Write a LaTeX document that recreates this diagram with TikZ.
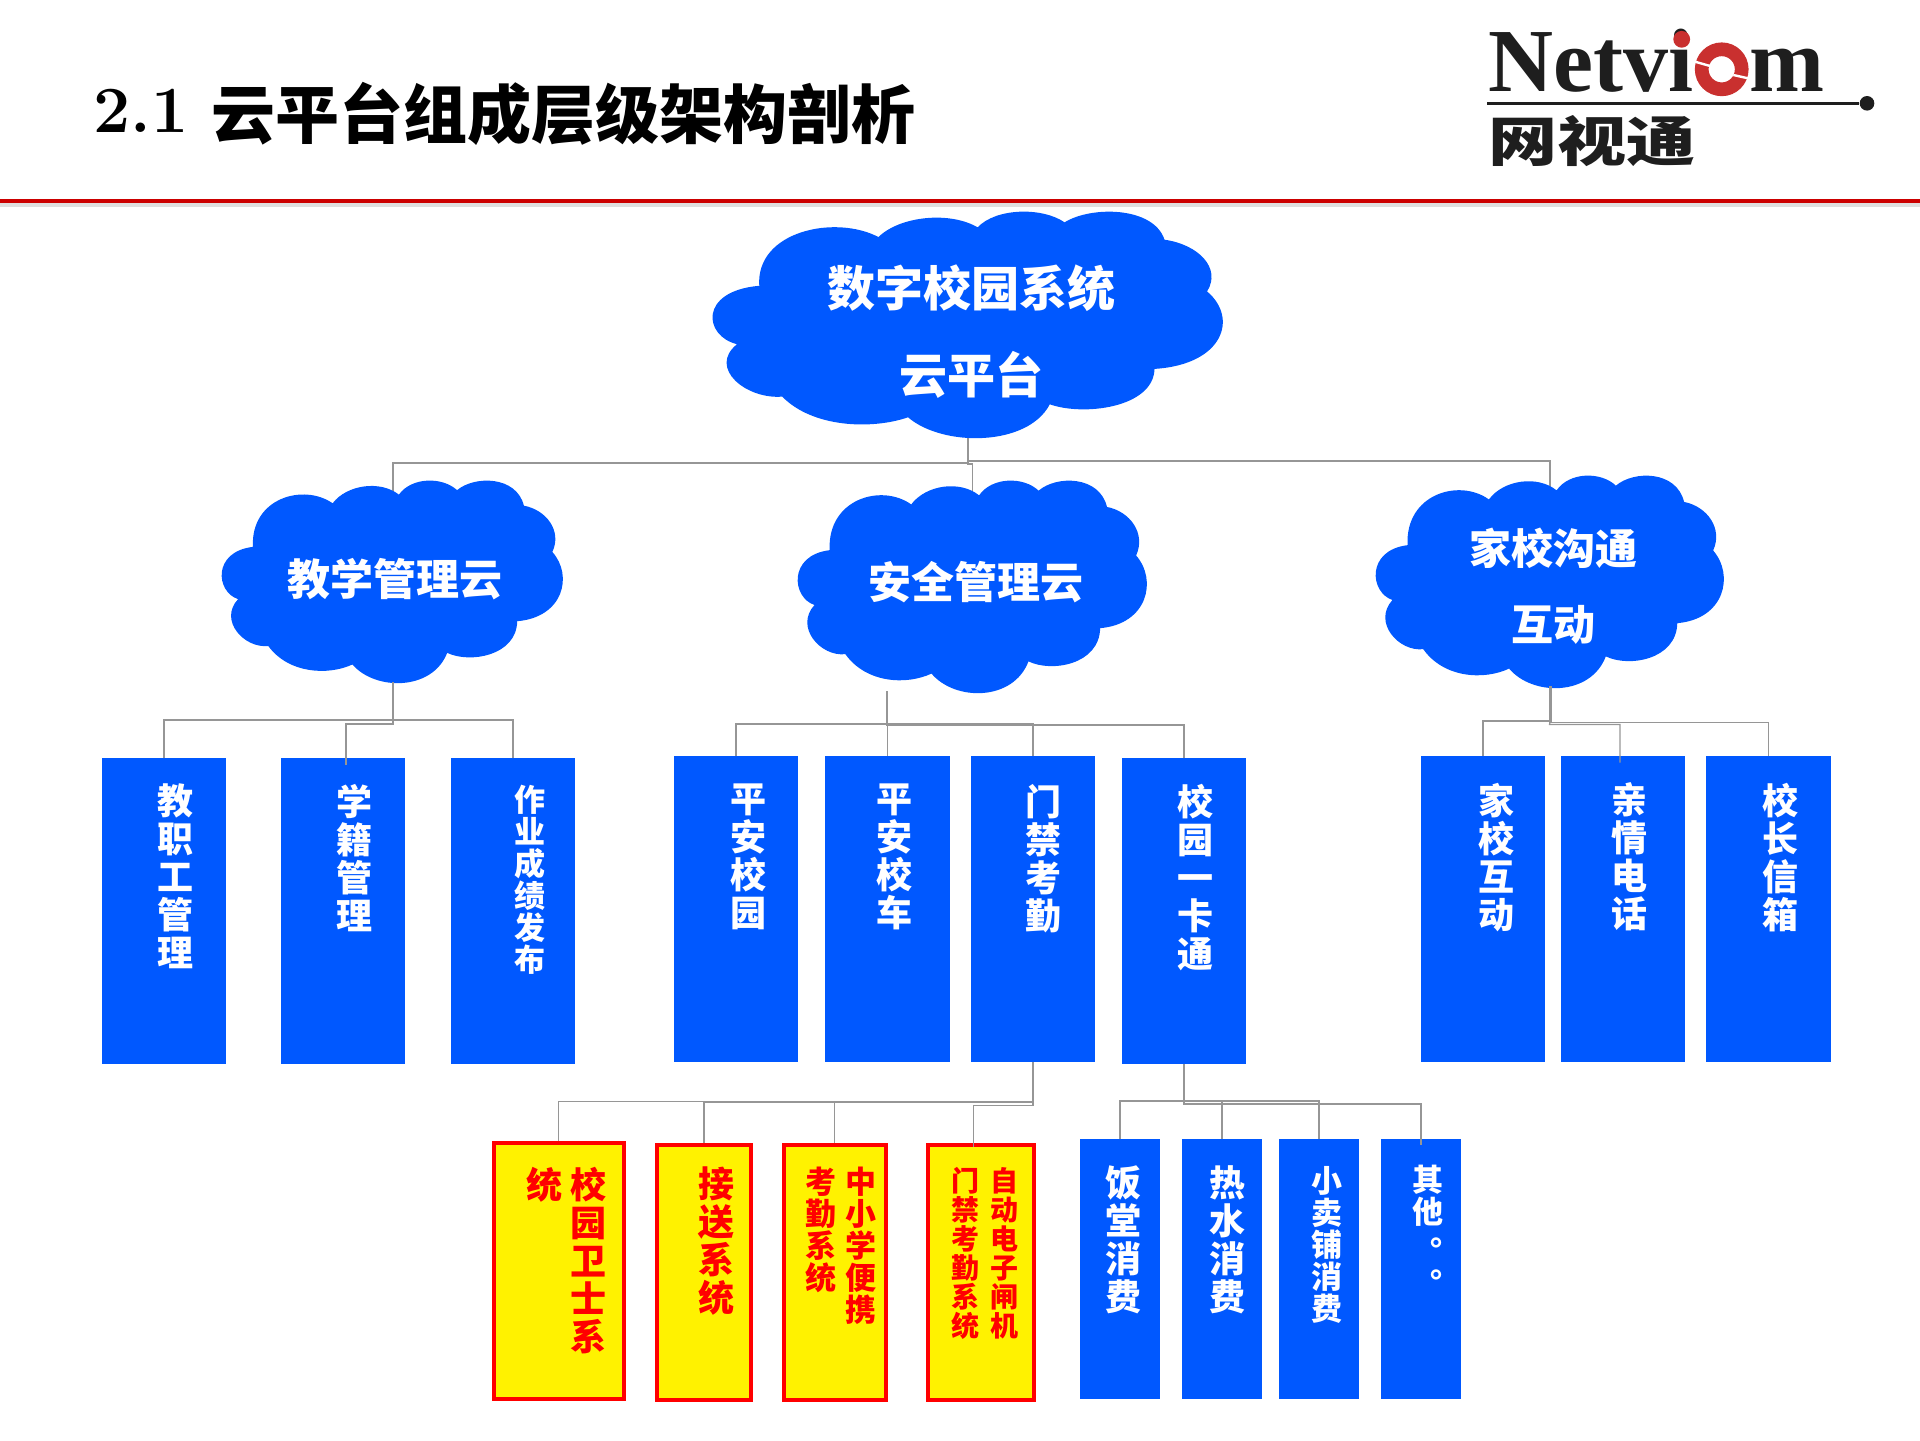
\documentclass[tikz,border=0pt]{standalone}
\usepackage{fontspec}
\usepackage{graphicx}
\usetikzlibrary{backgrounds}
\newfontfamily\cjk{Noto Sans CJK SC}
\newfontfamily\logofont{Liberation Serif}
\definecolor{cblue}{RGB}{0,88,255}
\definecolor{cgray}{RGB}{150,150,150}
\definecolor{cring}{RGB}{201,48,47}
\definecolor{cink}{RGB}{30,30,30}
\newcommand{\fsL}{\cjk\bfseries\fontsize{18}{19}\selectfont}
\newcommand{\fsM}{\cjk\bfseries\fontsize{15.5}{16}\selectfont}
\newcommand{\fsS}{\cjk\bfseries\fontsize{14}{14.5}\selectfont}
\newcommand{\stk}[1]{\parbox[t]{1.2em}{\centering #1}}
\newcommand{\boxtext}[4]{\parbox[c][#1][t]{0pt}{\vspace*{#3}\makebox[0pt]{\hspace*{#2}#4}}}
\newcommand{\cloudshape}[4]{\fill[cblue,shift={(#1,#2)},xscale=#3/1378,yscale=#4/680]
  (125,224) .. controls (115,60) and (330,10) .. (447,78)
  .. controls (505,15) and (640,0) .. (715,49)
  .. controls (765,-10) and (890,-12) .. (950,34)
  .. controls (1020,-15) and (1190,-15) .. (1220,86)
  .. controls (1310,100) and (1375,170) .. (1335,241)
  .. controls (1420,320) and (1380,460) .. (1193,473)
  .. controls (1190,590) and (1000,615) .. (910,579)
  .. controls (850,707) and (620,707) .. (527,618)
  .. controls (430,655) and (270,650) .. (187,556)
  .. controls (90,565) and (-15,470) .. (65,399)
  .. controls (-25,375) and (-40,240) .. (125,224) -- cycle;}
\tikzstyle{cloudtext}=[rectangle,text=white,inner sep=0mm,align=center]
\tikzstyle{bluebox}=[rectangle,fill=cblue,text=white,inner sep=0mm]
\tikzstyle{redbox}=[rectangle,draw=red,line width=2pt,fill=yellow,text=red,inner sep=0mm]
\tikzstyle{link}=[draw=cgray,line width=0.6pt]
\begin{document}
\begin{tikzpicture}[x=0.5pt,y=-0.5pt]
  \useasboundingbox (0,0) rectangle (1920,1440);
  % header
  \fill[cgray!30] (0,203) rectangle (1920,207);
  \fill[red!80!black] (0,199) rectangle (1920,203);
  \node[anchor=base west,inner sep=0mm] at (93,138) (title) {\raisebox{3pt}{\bfseries\fontsize{33}{33}\selectfont 2.1}\hspace{11.5pt}{\cjk\bfseries\fontsize{32}{32}\selectfont 云平台组成层级架构剖析}};
  % logo
  \node[anchor=base west,inner sep=0mm,text=cink,font=\logofont\bfseries\fontsize{45}{45}\selectfont] at (1488,91.7) (logoName) {Netvi\makebox[28pt]{\textcolor{white}{o}}m};
  \fill[cring] (1681.7,39.3) circle (4.2pt);
  \draw[cring,line width=6.85pt] (1721.7,69.3) circle (10pt);
  \draw[white,line width=1.2pt] (1695,61.7) -- (1710,66);
  \draw[white,line width=1.2pt] (1733.3,75) -- (1748,78.3);
  \node[circle,fill=cink,inner sep=0mm,minimum size=7.3pt] at (1867,103.3) (logoDot) {};
  \coordinate (logoStart) at (1487,103.3);
  \draw[cink,line width=1.2pt] (logoStart) -- (logoDot);
  \node[anchor=west,inner sep=0mm,text=cink,font=\cjk\bfseries\fontsize{27}{27}\selectfont] at (1488,141) (logoCn) {\scalebox{1.28}[1]{网视通}};
  % clouds
  \node[cloudtext,minimum height=105.5pt,font=\cjk\bfseries\fontsize{24}{43.5}\selectfont] at (971,331.5) (cl0) {数字校园系统\\云平台};
  \node[cloudtext,minimum height=103pt,font=\cjk\bfseries\fontsize{21.5}{24}\selectfont] at (395,579) (cl1) {教学管理云};
  \node[cloudtext,font=\cjk\bfseries\fontsize{21.5}{24}\selectfont] at (976,582) (cl2) {安全管理云};
  \node[cloudtext,minimum height=99.5pt,font=\cjk\bfseries\fontsize{21}{38}\selectfont] at (1553,586.5) (cl3) {家校沟通\\互动};
  \coordinate (j0) at (968,463);
  \coordinate (j0r) at (968,461);
  \coordinate (j0m) at (972.6,464);
  \coordinate (j1) at (393,720);
  \coordinate (j1m) at (393,724);
  \coordinate (j3) at (1550,721);
  \coordinate (j3r) at (1551,722.3);
  \coordinate (j3m) at (1549.5,724.5);
  \begin{scope}[on background layer]
    \draw[link] (j0 |- cl0.south) -- (j0) -| (j1 |- cl1);
    \draw[link] (j0 |- cl0.south) -- (j0r) -| (j3 |- cl3);
    \draw[link] (j0) |- (j0m) -- (j0m |- cl2);
    \cloudshape{713}{211}{510}{227}
    \cloudshape{222}{480}{341}{203}
    \cloudshape{798}{480}{349}{213}
    \cloudshape{1376}{475}{348}{213}
  \end{scope}
  % second row
  \node[bluebox,minimum width=62pt,font=\fsL] at (164,911) (a1) {\boxtext{153pt}{11pt}{13pt}{\stk{教\\职\\工\\管\\理}}};
  \node[bluebox,minimum width=62pt,font=\fsL] at (343,911) (a2) {\boxtext{153pt}{11pt}{13pt}{\stk{学\\籍\\管\\理}}};
  \node[bluebox,minimum width=62pt,font=\fsM] at (513,911) (a3) {\boxtext{153pt}{17pt}{13.5pt}{\stk{作\\业\\成\\绩\\发\\布}}};
  \node[bluebox,minimum width=62.3pt,font=\fsL] at (736,909) (b1) {\boxtext{153pt}{12pt}{14pt}{\stk{平\\安\\校\\园}}};
  \node[bluebox,minimum width=62.3pt,font=\fsL] at (887.5,909) (b2) {\boxtext{153pt}{6.5pt}{14pt}{\stk{平\\安\\校\\车}}};
  \node[bluebox,minimum width=62.3pt,font=\fsL] at (1033,909) (b3) {\boxtext{153pt}{10pt}{14pt}{\stk{门\\禁\\考\\勤}}};
  \node[bluebox,minimum width=62.3pt,font=\fsL] at (1184,911) (b4) {\boxtext{153pt}{11pt}{13pt}{\stk{校\\园\\一\\卡\\通}}};
  \node[bluebox,minimum width=62pt,font=\fsL] at (1483,909) (c1) {\boxtext{153pt}{13pt}{13.5pt}{\stk{家\\校\\互\\动}}};
  \node[bluebox,minimum width=62pt,font=\fsL] at (1623,909) (c2) {\boxtext{153pt}{6pt}{13.5pt}{\stk{亲\\情\\电\\话}}};
  \node[bluebox,minimum width=62.5pt,font=\fsL] at (1768.5,909) (c3) {\boxtext{153pt}{11.5pt}{13.5pt}{\stk{校\\长\\信\\箱}}};
  % third row
  \node[redbox,minimum width=65pt,font=\fsL] at (558.5,1270.8) (y1) {\boxtext{127.8pt}{7.5pt}{12pt}{\stk{统}\hspace{0.4pt}\stk{校\\园\\卫\\士\\系}}};
  \node[redbox,minimum width=46.6pt,font=\fsL] at (704,1272.5) (y2) {\boxtext{127.5pt}{12pt}{11pt}{\stk{接\\送\\系\\统}}};
  \node[redbox,minimum width=50.8pt,font=\fsM] at (834.8,1272.5) (y3) {\boxtext{127.5pt}{6pt}{11pt}{\stk{考\\勤\\系\\统}\hspace{1.4pt}\stk{中\\小\\学\\便\\携}}};
  \node[redbox,minimum width=53.1pt,font=\fsS] at (980.6,1272.5) (y4) {\boxtext{127.5pt}{4pt}{11pt}{\stk{门\\禁\\考\\勤\\系\\统}\hspace{2.7pt}\stk{自\\动\\电\\子\\闸\\机}}};
  \node[bluebox,minimum width=40pt,font=\fsL] at (1120,1269) (d1) {\boxtext{130pt}{3pt}{13.5pt}{\stk{饭\\堂\\消\\费}}};
  \node[bluebox,minimum width=40pt,font=\fsL] at (1222,1269) (d2) {\boxtext{130pt}{5pt}{13.5pt}{\stk{热\\水\\消\\费}}};
  \node[bluebox,minimum width=40pt,font=\fsM] at (1319,1269) (d3) {\boxtext{130pt}{8pt}{13.5pt}{\stk{小\\卖\\铺\\消\\费}}};
  \node[bluebox,minimum width=40pt,font=\fsM] at (1421,1269) (d4) {\boxtext{130pt}{7pt}{13pt}{\stk{其\\他\\\makebox[1em][l]{\hspace{8.8pt}\raisebox{5pt}{。}}\\\makebox[1em][l]{\hspace{8.8pt}\raisebox{5pt}{。}}}}};
  % links to the second row
  \draw[link] (j1 |- cl1.south) -- (j1) -| (a1.north);
  \draw[link] (j1) -| (a3.north);
  \draw[link] (j1) -- (j1m) -| ([xshift=1.5pt,yshift=-3.5pt]a2.north);
  \coordinate (rootb) at (887,691);
  \coordinate (j2) at (887,724);
  \coordinate (j2m) at (887,725);
  \draw[link] (rootb) -- (j2) -| (b1.north);
  \draw[link] (j2) -| (b3.north);
  \draw[link] (j2) -- (j2m) -| (b2.north);
  \draw[link] (j2m) -| (b4.north);
  \draw[link] (j3 |- cl3.south) -- (j3) -| (c1.north);
  \draw[link] (j3r |- cl3.south) -- (j3r) -| (c3.north);
  \draw[link] (j3) -- (j3m) -| ([xshift=-1.5pt,yshift=-3.5pt]c2.north);
  % links to the third row
  \coordinate (k1) at (1033,1101.3);
  \coordinate (k2) at (1033,1102);
  \coordinate (k3) at (1033,1105.7);
  \draw[link] (b3.south) -- (k1) -| (y1.north);
  \draw[link] (k1) -- (k2) -| (y2.north);
  \draw[link] (k2) -| (y3.north);
  \draw[link] (k2) -- (k3) -| ([xshift=-3.65pt,yshift=-2pt]y4.north);
  \coordinate (m1) at (1184,1101);
  \coordinate (m2) at (1184,1104);
  \draw[link] (b4.south) -- (m1) -| (d1.north);
  \draw[link] (m1) -| (d2.north);
  \draw[link] (m1) -| (d3.north);
  \draw[link] (m1) -- (m2) -| ([yshift=-3pt]d4.north);
\end{tikzpicture}
\end{document}
